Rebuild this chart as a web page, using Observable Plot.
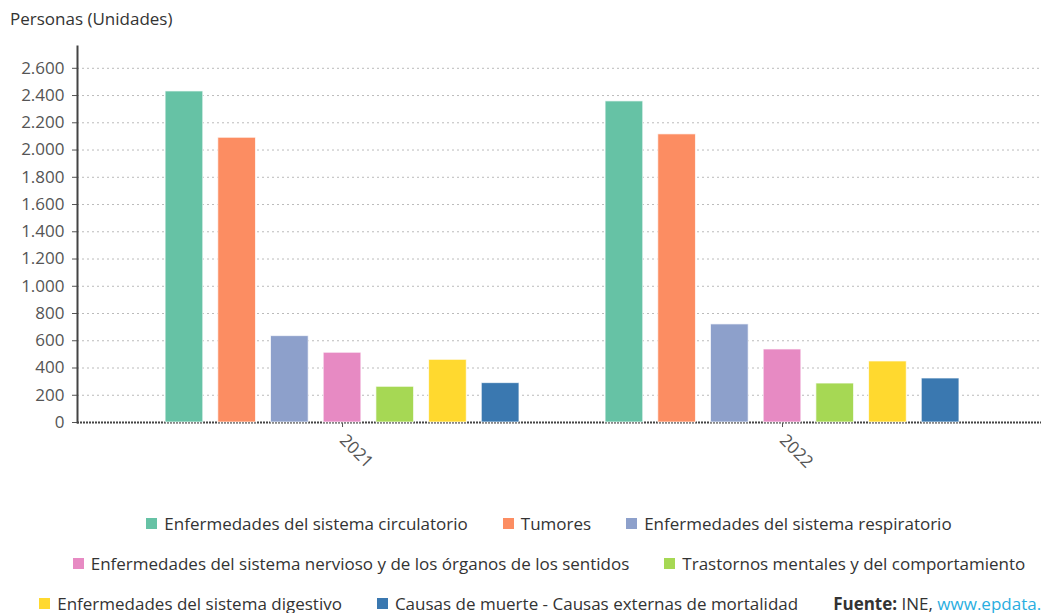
<!DOCTYPE html>
<html>
<head>
<meta charset="utf-8">
<script src="https://cdn.jsdelivr.net/npm/d3@7"></script>
<script src="https://cdn.jsdelivr.net/npm/@observablehq/plot@0.6"></script>
<style>
  html, body { margin: 0; padding: 0; background: #fff; overflow: hidden; }
  body { width: 1041px; height: 613px; position: relative; font-family: "Open Sans", Lato, sans-serif; color: #333; }
  #title { position: absolute; left: 10px; top: 7px; font-size: 17px; color: #333; }
  #chart { position: absolute; left: 0; top: 0; width: 1041px; height: 470px; }
  #chart svg { position: absolute; left: 0; top: 0; }
  #legend { position: absolute; left: 0; top: 503px; width: 1098px; font-size: 17px; color: #333; }
  .lrow { display: flex; justify-content: center; column-gap: 35px; height: 40px; align-items: center; white-space: nowrap; }
  .item { display: flex; align-items: center; }
  .sw { width: 11px; height: 11px; margin-right: 7px; display: inline-block; }
  .src { display: block; white-space: pre; }
  .src b { font-weight: bold; }
  .src a { color: #2aaee0; text-decoration: none; }
</style>
</head>
<body>
<div id="title">Personas (Unidades)</div>
<div id="chart"></div>
<div id="legend"></div>
<script>
const years = ["2021", "2022"];
const causes = [
  "Enfermedades del sistema circulatorio",
  "Tumores",
  "Enfermedades del sistema respiratorio",
  "Enfermedades del sistema nervioso y de los órganos de los sentidos",
  "Trastornos mentales y del comportamiento",
  "Enfermedades del sistema digestivo",
  "Causas de muerte - Causas externas de mortalidad"
];
const colors = ["#66c2a5", "#fc8d62", "#8da0cb", "#e78ac3", "#a6d854", "#ffd92f", "#3a78b0"];
const values2021 = [2430, 2090, 634, 512, 262, 460, 289];
const values2022 = [2357, 2115, 720, 536, 286, 448, 323];
const yTicks = [0, 200, 400, 600, 800, 1000, 1200, 1400, 1600, 1800, 2000, 2200, 2400, 2600];
const legendRows = [[0, 1, 2], [3, 4], [5, 6]];
const sourceLabel = "Fuente:";
const sourceText = " INE, ";
const sourceLink = "www.epdata.es";

const rows = [];
years.forEach((yr, i) => {
  const vals = i === 0 ? values2021 : values2022;
  causes.forEach((c, j) => rows.push({year: yr, cause: c, value: vals[j]}));
});

const fmt = d3.formatLocale({decimal: ",", thousands: ".", grouping: [3], currency: ["", "€"]}).format(",");

const W = 1041, H = 470;
const common = {
  width: W, height: H,
  marginLeft: 77, marginRight: 0, marginTop: 46, marginBottom: 48,
  style: {fontFamily: "'Open Sans', Lato, sans-serif", fontSize: "17px", color: "#555", background: "transparent", overflow: "visible"}
};

const back = Plot.plot({
  ...common,
  y: {domain: [0, 2760], ticks: yTicks, tickFormat: fmt, label: null, tickSize: 5, tickPadding: 8},
  marks: [
    Plot.ruleY(yTicks.filter(d => d > 0), {stroke: "#bbb", strokeDasharray: "2,3", strokeWidth: 1}),
    Plot.ruleY([0], {stroke: "#444", strokeWidth: 2, strokeDasharray: "2,1"}),
    Plot.frame({anchor: "left", stroke: "#444", strokeWidth: 2, strokeDasharray: "2,1"})
  ]
});

const front = Plot.plot({
  ...common,
  y: {domain: [0, 2760], axis: null},
  fx: {domain: years, paddingInner: 0, paddingOuter: 0.0955, align: 0.536, round: false,
       label: null, tickRotate: 45, tickSize: 5, tickPadding: 10},
  x: {domain: causes, paddingInner: 0.285, paddingOuter: 0.817, round: false, axis: null},
  color: {domain: causes, range: colors},
  marks: [
    Plot.barY(rows, {fx: "year", x: "cause", y: "value", fill: "cause", stroke: "#fff", strokeOpacity: 0.7, strokeWidth: 1})
  ]
});

const chart = document.getElementById("chart");
chart.appendChild(back);
chart.appendChild(front);

const legend = document.getElementById("legend");
legendRows.forEach((idxs, r) => {
  const row = document.createElement("div");
  row.className = "lrow";
  idxs.forEach(i => {
    const it = document.createElement("div");
    it.className = "item";
    const sw = document.createElement("span");
    sw.className = "sw";
    sw.style.background = colors[i];
    it.appendChild(sw);
    it.appendChild(document.createTextNode(causes[i]));
    row.appendChild(it);
  });
  if (r === legendRows.length - 1) {
    const s = document.createElement("div");
    s.className = "src";
    const b = document.createElement("b");
    b.textContent = sourceLabel;
    s.appendChild(b);
    s.appendChild(document.createTextNode(sourceText));
    const a = document.createElement("a");
    a.textContent = sourceLink;
    s.appendChild(a);
    row.appendChild(s);
  }
  legend.appendChild(row);
});
</script>
</body>
</html>
